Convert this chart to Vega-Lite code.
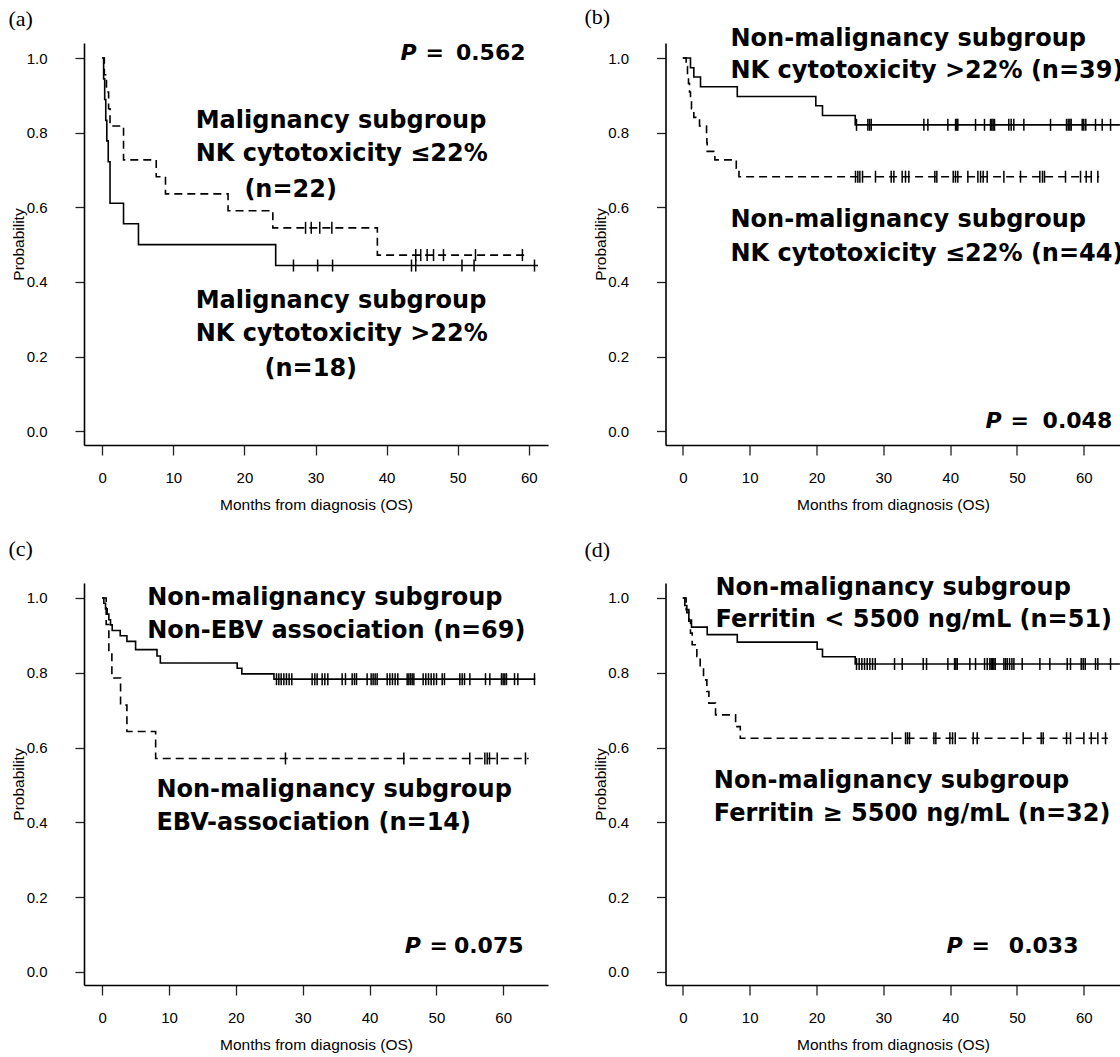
{
"$schema": "https://vega.github.io/schema/vega-lite/v6.json",
"background": "white",
"padding": {"left": 8, "top": 6, "right": 0, "bottom": 0},
"bounds": "flush",
"columns": 2,
"spacing": {"row": 138, "column": 117.5},
"datasets": {
"a": [
{"g":"A","t":0,"p":1,"c":0},{"g":"A","t":0.2,"p":0.944,"c":0},{"g":"A","t":0.35,"p":0.889,"c":0},{"g":"A","t":0.5,"p":0.833,"c":0},{"g":"A","t":0.65,"p":0.778,"c":0},{"g":"A","t":0.85,"p":0.722,"c":0},{"g":"A","t":1.1,"p":0.611,"c":0},{"g":"A","t":3.0,"p":0.556,"c":0},{"g":"A","t":5.1,"p":0.5,"c":0},{"g":"A","t":24.4,"p":0.444,"c":0},{"g":"A","t":61.3,"p":0.444,"c":0},
{"g":"A","t":26.9,"p":0.444,"c":1},{"g":"A","t":30.3,"p":0.444,"c":1},{"g":"A","t":32.4,"p":0.444,"c":1},{"g":"A","t":43.5,"p":0.444,"c":1},{"g":"A","t":44.1,"p":0.444,"c":1},{"g":"A","t":50.6,"p":0.444,"c":1},{"g":"A","t":52.3,"p":0.444,"c":1},{"g":"A","t":60.8,"p":0.444,"c":1},
{"g":"B","t":0,"p":1,"c":0},{"g":"B","t":0.3,"p":0.955,"c":0},{"g":"B","t":0.6,"p":0.909,"c":0},{"g":"B","t":0.9,"p":0.864,"c":0},{"g":"B","t":1.1,"p":0.818,"c":0},{"g":"B","t":3.0,"p":0.727,"c":0},{"g":"B","t":7.6,"p":0.682,"c":0},{"g":"B","t":8.9,"p":0.636,"c":0},{"g":"B","t":17.7,"p":0.591,"c":0},{"g":"B","t":24.0,"p":0.545,"c":0},{"g":"B","t":38.7,"p":0.472,"c":0},{"g":"B","t":59.8,"p":0.472,"c":0},
{"g":"B","t":28.6,"p":0.545,"c":1},{"g":"B","t":29.4,"p":0.545,"c":1},{"g":"B","t":30.6,"p":0.545,"c":1},{"g":"B","t":32.3,"p":0.545,"c":1},
{"g":"B","t":44.1,"p":0.472,"c":1},{"g":"B","t":44.8,"p":0.472,"c":1},{"g":"B","t":45.7,"p":0.472,"c":1},{"g":"B","t":46.6,"p":0.472,"c":1},{"g":"B","t":48.0,"p":0.472,"c":1},{"g":"B","t":52.5,"p":0.472,"c":1},{"g":"B","t":59.1,"p":0.472,"c":1}
],
"b": [
{"g":"A","t":0,"p":1,"c":0},{"g":"A","t":1.15,"p":0.974,"c":0},{"g":"A","t":1.65,"p":0.949,"c":0},{"g":"A","t":2.65,"p":0.923,"c":0},{"g":"A","t":8.15,"p":0.897,"c":0},{"g":"A","t":19.9,"p":0.872,"c":0},{"g":"A","t":20.9,"p":0.846,"c":0},{"g":"A","t":25.8,"p":0.821,"c":0},{"g":"A","t":65.4,"p":0.821,"c":0},
{"g":"A","t":25.99,"p":0.821,"c":1},{"g":"A","t":27.69,"p":0.821,"c":1},{"g":"A","t":27.94,"p":0.821,"c":1},{"g":"A","t":28.19,"p":0.821,"c":1},{"g":"A","t":36.07,"p":0.821,"c":1},{"g":"A","t":36.67,"p":0.821,"c":1},{"g":"A","t":39.66,"p":0.821,"c":1},{"g":"A","t":40.81,"p":0.821,"c":1},{"g":"A","t":41.0,"p":0.821,"c":1},{"g":"A","t":41.15,"p":0.821,"c":1},{"g":"A","t":43.8,"p":0.821,"c":1},{"g":"A","t":45.14,"p":0.821,"c":1},{"g":"A","t":46.04,"p":0.821,"c":1},{"g":"A","t":46.24,"p":0.821,"c":1},{"g":"A","t":46.44,"p":0.821,"c":1},{"g":"A","t":46.64,"p":0.821,"c":1},{"g":"A","t":48.78,"p":0.821,"c":1},{"g":"A","t":49.13,"p":0.821,"c":1},{"g":"A","t":49.53,"p":0.821,"c":1},{"g":"A","t":51.03,"p":0.821,"c":1},{"g":"A","t":55.02,"p":0.821,"c":1},{"g":"A","t":57.41,"p":0.821,"c":1},{"g":"A","t":57.66,"p":0.821,"c":1},{"g":"A","t":57.91,"p":0.821,"c":1},{"g":"A","t":58.11,"p":0.821,"c":1},{"g":"A","t":59.76,"p":0.821,"c":1},{"g":"A","t":60.0,"p":0.821,"c":1},{"g":"A","t":60.3,"p":0.821,"c":1},{"g":"A","t":61.75,"p":0.821,"c":1},{"g":"A","t":62.75,"p":0.821,"c":1},{"g":"A","t":64.0,"p":0.821,"c":1},
{"g":"B","t":0,"p":1,"c":0},{"g":"B","t":0.5,"p":0.977,"c":0},{"g":"B","t":0.7,"p":0.955,"c":0},{"g":"B","t":0.85,"p":0.932,"c":0},{"g":"B","t":1.0,"p":0.909,"c":0},{"g":"B","t":1.15,"p":0.886,"c":0},{"g":"B","t":1.3,"p":0.864,"c":0},{"g":"B","t":1.65,"p":0.841,"c":0},{"g":"B","t":2.5,"p":0.818,"c":0},{"g":"B","t":3.55,"p":0.795,"c":0},{"g":"B","t":3.6,"p":0.773,"c":0},{"g":"B","t":3.65,"p":0.75,"c":0},{"g":"B","t":4.8,"p":0.727,"c":0},{"g":"B","t":8.0,"p":0.705,"c":0},{"g":"B","t":8.4,"p":0.682,"c":0},{"g":"B","t":62.3,"p":0.682,"c":0},
{"g":"B","t":25.84,"p":0.682,"c":1},{"g":"B","t":26.19,"p":0.682,"c":1},{"g":"B","t":26.49,"p":0.682,"c":1},{"g":"B","t":26.89,"p":0.682,"c":1},{"g":"B","t":28.83,"p":0.682,"c":1},{"g":"B","t":31.18,"p":0.682,"c":1},{"g":"B","t":31.58,"p":0.682,"c":1},{"g":"B","t":32.82,"p":0.682,"c":1},{"g":"B","t":33.32,"p":0.682,"c":1},{"g":"B","t":33.82,"p":0.682,"c":1},{"g":"B","t":37.71,"p":0.682,"c":1},{"g":"B","t":38.01,"p":0.682,"c":1},{"g":"B","t":40.46,"p":0.682,"c":1},{"g":"B","t":40.8,"p":0.682,"c":1},{"g":"B","t":41.15,"p":0.682,"c":1},{"g":"B","t":42.65,"p":0.682,"c":1},{"g":"B","t":44.15,"p":0.682,"c":1},{"g":"B","t":44.55,"p":0.682,"c":1},{"g":"B","t":44.94,"p":0.682,"c":1},{"g":"B","t":45.54,"p":0.682,"c":1},{"g":"B","t":48.04,"p":0.682,"c":1},{"g":"B","t":50.53,"p":0.682,"c":1},{"g":"B","t":53.42,"p":0.682,"c":1},{"g":"B","t":53.82,"p":0.682,"c":1},{"g":"B","t":54.12,"p":0.682,"c":1},{"g":"B","t":57.26,"p":0.682,"c":1},{"g":"B","t":59.51,"p":0.682,"c":1},{"g":"B","t":60.36,"p":0.682,"c":1},{"g":"B","t":61.11,"p":0.682,"c":1},{"g":"B","t":62.1,"p":0.682,"c":1}
],
"c": [
{"g":"A","t":0,"p":1,"c":0},{"g":"A","t":0.25,"p":0.986,"c":0},{"g":"A","t":0.5,"p":0.971,"c":0},{"g":"A","t":0.75,"p":0.957,"c":0},{"g":"A","t":1.0,"p":0.942,"c":0},{"g":"A","t":1.25,"p":0.928,"c":0},{"g":"A","t":1.5,"p":0.913,"c":0},{"g":"A","t":2.7,"p":0.899,"c":0},{"g":"A","t":3.7,"p":0.884,"c":0},{"g":"A","t":5.0,"p":0.862,"c":0},{"g":"A","t":8.2,"p":0.845,"c":0},{"g":"A","t":8.7,"p":0.826,"c":0},{"g":"A","t":20.2,"p":0.812,"c":0},{"g":"A","t":20.9,"p":0.797,"c":0},{"g":"A","t":25.7,"p":0.783,"c":0},{"g":"A","t":64.8,"p":0.783,"c":0},
{"g":"A","t":26.08,"p":0.783,"c":1},{"g":"A","t":26.43,"p":0.783,"c":1},{"g":"A","t":26.78,"p":0.783,"c":1},{"g":"A","t":27.18,"p":0.783,"c":1},{"g":"A","t":27.57,"p":0.783,"c":1},{"g":"A","t":27.97,"p":0.783,"c":1},{"g":"A","t":28.37,"p":0.783,"c":1},{"g":"A","t":31.41,"p":0.783,"c":1},{"g":"A","t":31.81,"p":0.783,"c":1},{"g":"A","t":32.16,"p":0.783,"c":1},{"g":"A","t":32.91,"p":0.783,"c":1},{"g":"A","t":33.31,"p":0.783,"c":1},{"g":"A","t":33.76,"p":0.783,"c":1},{"g":"A","t":35.9,"p":0.783,"c":1},{"g":"A","t":36.4,"p":0.783,"c":1},{"g":"A","t":37.4,"p":0.783,"c":1},{"g":"A","t":37.75,"p":0.783,"c":1},{"g":"A","t":38.05,"p":0.783,"c":1},{"g":"A","t":39.64,"p":0.783,"c":1},{"g":"A","t":40.24,"p":0.783,"c":1},{"g":"A","t":40.54,"p":0.783,"c":1},{"g":"A","t":40.84,"p":0.783,"c":1},{"g":"A","t":41.14,"p":0.783,"c":1},{"g":"A","t":42.64,"p":0.783,"c":1},{"g":"A","t":43.04,"p":0.783,"c":1},{"g":"A","t":43.43,"p":0.783,"c":1},{"g":"A","t":43.83,"p":0.783,"c":1},{"g":"A","t":44.23,"p":0.783,"c":1},{"g":"A","t":45.63,"p":0.783,"c":1},{"g":"A","t":45.88,"p":0.783,"c":1},{"g":"A","t":46.13,"p":0.783,"c":1},{"g":"A","t":46.38,"p":0.783,"c":1},{"g":"A","t":46.63,"p":0.783,"c":1},{"g":"A","t":48.02,"p":0.783,"c":1},{"g":"A","t":48.42,"p":0.783,"c":1},{"g":"A","t":48.82,"p":0.783,"c":1},{"g":"A","t":49.22,"p":0.783,"c":1},{"g":"A","t":49.62,"p":0.783,"c":1},{"g":"A","t":50.02,"p":0.783,"c":1},{"g":"A","t":50.87,"p":0.783,"c":1},{"g":"A","t":51.21,"p":0.783,"c":1},{"g":"A","t":53.51,"p":0.783,"c":1},{"g":"A","t":53.86,"p":0.783,"c":1},{"g":"A","t":54.21,"p":0.783,"c":1},{"g":"A","t":55.01,"p":0.783,"c":1},{"g":"A","t":57.35,"p":0.783,"c":1},{"g":"A","t":58.0,"p":0.783,"c":1},{"g":"A","t":59.74,"p":0.783,"c":1},{"g":"A","t":59.99,"p":0.783,"c":1},{"g":"A","t":60.24,"p":0.783,"c":1},{"g":"A","t":60.49,"p":0.783,"c":1},{"g":"A","t":61.69,"p":0.783,"c":1},{"g":"A","t":62.19,"p":0.783,"c":1},{"g":"A","t":64.68,"p":0.783,"c":1},
{"g":"B","t":0,"p":1,"c":0},{"g":"B","t":0.6,"p":0.929,"c":0},{"g":"B","t":1.0,"p":0.857,"c":0},{"g":"B","t":1.45,"p":0.786,"c":0},{"g":"B","t":2.75,"p":0.714,"c":0},{"g":"B","t":3.7,"p":0.643,"c":0},{"g":"B","t":8.0,"p":0.571,"c":0},{"g":"B","t":63.8,"p":0.571,"c":0},
{"g":"B","t":27.42,"p":0.571,"c":1},{"g":"B","t":45.13,"p":0.571,"c":1},{"g":"B","t":55.0,"p":0.571,"c":1},{"g":"B","t":57.25,"p":0.571,"c":1},{"g":"B","t":57.6,"p":0.571,"c":1},{"g":"B","t":57.95,"p":0.571,"c":1},{"g":"B","t":59.1,"p":0.571,"c":1},{"g":"B","t":63.33,"p":0.571,"c":1}
],
"d": [
{"g":"A","t":0,"p":1,"c":0},{"g":"A","t":0.3,"p":0.980,"c":0},{"g":"A","t":0.6,"p":0.961,"c":0},{"g":"A","t":0.9,"p":0.941,"c":0},{"g":"A","t":1.3,"p":0.922,"c":0},{"g":"A","t":3.65,"p":0.902,"c":0},{"g":"A","t":8.15,"p":0.882,"c":0},{"g":"A","t":20.1,"p":0.863,"c":0},{"g":"A","t":20.9,"p":0.843,"c":0},{"g":"A","t":25.8,"p":0.8235,"c":0},{"g":"A","t":65.4,"p":0.8235,"c":0},
{"g":"A","t":25.99,"p":0.8235,"c":1},{"g":"A","t":26.39,"p":0.8235,"c":1},{"g":"A","t":26.79,"p":0.8235,"c":1},{"g":"A","t":27.19,"p":0.8235,"c":1},{"g":"A","t":27.59,"p":0.8235,"c":1},{"g":"A","t":27.99,"p":0.8235,"c":1},{"g":"A","t":28.39,"p":0.8235,"c":1},{"g":"A","t":28.79,"p":0.8235,"c":1},{"g":"A","t":31.68,"p":0.8235,"c":1},{"g":"A","t":32.83,"p":0.8235,"c":1},{"g":"A","t":35.97,"p":0.8235,"c":1},{"g":"A","t":36.47,"p":0.8235,"c":1},{"g":"A","t":39.66,"p":0.8235,"c":1},{"g":"A","t":40.66,"p":0.8235,"c":1},{"g":"A","t":40.86,"p":0.8235,"c":1},{"g":"A","t":41.06,"p":0.8235,"c":1},{"g":"A","t":42.95,"p":0.8235,"c":1},{"g":"A","t":43.8,"p":0.8235,"c":1},{"g":"A","t":45.15,"p":0.8235,"c":1},{"g":"A","t":45.55,"p":0.8235,"c":1},{"g":"A","t":45.94,"p":0.8235,"c":1},{"g":"A","t":46.14,"p":0.8235,"c":1},{"g":"A","t":46.34,"p":0.8235,"c":1},{"g":"A","t":46.54,"p":0.8235,"c":1},{"g":"A","t":46.74,"p":0.8235,"c":1},{"g":"A","t":48.04,"p":0.8235,"c":1},{"g":"A","t":48.29,"p":0.8235,"c":1},{"g":"A","t":48.54,"p":0.8235,"c":1},{"g":"A","t":48.89,"p":0.8235,"c":1},{"g":"A","t":49.24,"p":0.8235,"c":1},{"g":"A","t":49.54,"p":0.8235,"c":1},{"g":"A","t":50.78,"p":0.8235,"c":1},{"g":"A","t":53.43,"p":0.8235,"c":1},{"g":"A","t":54.92,"p":0.8235,"c":1},{"g":"A","t":57.52,"p":0.8235,"c":1},{"g":"A","t":58.01,"p":0.8235,"c":1},{"g":"A","t":59.61,"p":0.8235,"c":1},{"g":"A","t":59.91,"p":0.8235,"c":1},{"g":"A","t":60.21,"p":0.8235,"c":1},{"g":"A","t":61.75,"p":0.8235,"c":1},{"g":"A","t":62.1,"p":0.8235,"c":1},{"g":"A","t":64.0,"p":0.8235,"c":1},
{"g":"B","t":0,"p":1,"c":0},{"g":"B","t":0.5,"p":0.969,"c":0},{"g":"B","t":0.9,"p":0.938,"c":0},{"g":"B","t":1.15,"p":0.906,"c":0},{"g":"B","t":1.4,"p":0.875,"c":0},{"g":"B","t":2.1,"p":0.844,"c":0},{"g":"B","t":2.6,"p":0.8125,"c":0},{"g":"B","t":3.1,"p":0.781,"c":0},{"g":"B","t":3.6,"p":0.75,"c":0},{"g":"B","t":3.9,"p":0.719,"c":0},{"g":"B","t":4.9,"p":0.6875,"c":0},{"g":"B","t":7.9,"p":0.656,"c":0},{"g":"B","t":8.6,"p":0.625,"c":0},{"g":"B","t":63.6,"p":0.625,"c":0},
{"g":"B","t":31.33,"p":0.625,"c":1},{"g":"B","t":33.33,"p":0.625,"c":1},{"g":"B","t":33.62,"p":0.625,"c":1},{"g":"B","t":33.92,"p":0.625,"c":1},{"g":"B","t":37.57,"p":0.625,"c":1},{"g":"B","t":37.86,"p":0.625,"c":1},{"g":"B","t":39.96,"p":0.625,"c":1},{"g":"B","t":40.36,"p":0.625,"c":1},{"g":"B","t":40.76,"p":0.625,"c":1},{"g":"B","t":43.45,"p":0.625,"c":1},{"g":"B","t":44.05,"p":0.625,"c":1},{"g":"B","t":50.93,"p":0.625,"c":1},{"g":"B","t":53.62,"p":0.625,"c":1},{"g":"B","t":53.92,"p":0.625,"c":1},{"g":"B","t":57.42,"p":0.625,"c":1},{"g":"B","t":58.01,"p":0.625,"c":1},{"g":"B","t":60.01,"p":0.625,"c":1},{"g":"B","t":61.11,"p":0.625,"c":1},{"g":"B","t":62.1,"p":0.625,"c":1},{"g":"B","t":63.25,"p":0.625,"c":1}
]
},
"config": {
"view": {"stroke": null},
"axis": {"grid": false, "domainColor": "#000", "domainWidth": 1.6, "tickColor": "#222", "tickWidth": 1.3, "labelFont": "Liberation Sans", "labelFontSize": 15, "labelColor": "#000", "titleFont": "Liberation Sans", "titleFontSize": 15.5, "titleFontWeight": "normal", "titleColor": "#000", "labelOverlap": false},
"axisX": {"tickSize": 10, "labelPadding": 22, "labelBaseline": "middle", "titleBaseline": "middle", "titleY": 59},
"axisY": {"tickSize": 9, "labelPadding": 28, "labelBaseline": "middle", "titleBaseline": "middle", "titleX": -65.5},
"text": {"font": "DejaVu Sans", "fontSize": 24, "fontWeight": "bold", "align": "left", "baseline": "alphabetic", "color": "#000"},
"title": {"anchor": "start", "frame": "group", "baseline": "alphabetic", "font": "Liberation Serif", "fontSize": 22, "fontWeight": "normal", "color": "#000"}
},
"concat": [
{
"width": 464, "height": 402,
"title": {"text": "(a)", "dx": -75.5, "offset": 11},
"layer": [
{"data": {"name": "a"}, "transform": [{"filter": "datum.c == 0"}],
 "mark": {"type": "line", "interpolate": "step-after", "strokeWidth": 1.6, "color": "#000"},
 "encoding": {
  "x": {"field": "t", "type": "quantitative", "scale": {"domain": [-2.56, 62.7], "nice": false, "zero": false}, "axis": {"values": [0,10,20,30,40,50,60], "title": "Months from diagnosis (OS)"}},
  "y": {"field": "p", "type": "quantitative", "scale": {"domain": [-0.0367, 1.0402], "nice": false, "zero": false}, "axis": {"values": [0,0.2,0.4,0.6,0.8,1], "format": ".1f", "title": "Probability"}},
  "detail": {"field": "g"},
  "strokeDash": {"field": "g", "type": "nominal", "scale": {"domain": ["A","B"], "range": [[1,0],[8,5]]}, "legend": null}}},
{"data": {"name": "a"}, "transform": [{"filter": "datum.c == 1"}],
 "mark": {"type": "point", "shape": "M0,-1L0,1", "size": 144, "strokeWidth": 1.5, "color": "#000", "opacity": 1},
 "encoding": {"x": {"field": "t", "type": "quantitative"}, "y": {"field": "p", "type": "quantitative"}}},
{"data": {"values": [{}]}, "mark": {"type": "text", "fontStyle": "italic", "fontSize": 22}, "encoding": {"x": {"datum": 41.95}, "y": {"datum": 0.994}, "text": {"value": "P"}}},
{"data": {"values": [{}]}, "mark": {"type": "text", "fontSize": 22}, "encoding": {"x": {"datum": 45.47}, "y": {"datum": 0.994}, "text": {"value": "="}}},
{"data": {"values": [{}]}, "mark": {"type": "text", "align": "right", "fontSize": 22}, "encoding": {"x": {"datum": 59.54}, "y": {"datum": 0.994}, "text": {"value": "0.562"}}},
{"data": {"values": [{}]}, "mark": "text", "encoding": {"x": {"datum": 13.15}, "y": {"datum": 0.8125}, "text": {"value": "Malignancy subgroup"}}},
{"data": {"values": [{}]}, "mark": "text", "encoding": {"x": {"datum": 13.15}, "y": {"datum": 0.7233}, "text": {"value": "NK cytotoxicity ≤22%"}}},
{"data": {"values": [{}]}, "mark": "text", "encoding": {"x": {"datum": 20.0}, "y": {"datum": 0.628}, "text": {"value": "(n=22)"}}},
{"data": {"values": [{}]}, "mark": "text", "encoding": {"x": {"datum": 13.15}, "y": {"datum": 0.3303}, "text": {"value": "Malignancy subgroup"}}},
{"data": {"values": [{}]}, "mark": "text", "encoding": {"x": {"datum": 13.15}, "y": {"datum": 0.2411}, "text": {"value": "NK cytotoxicity >22%"}}},
{"data": {"values": [{}]}, "mark": "text", "encoding": {"x": {"datum": 22.83}, "y": {"datum": 0.1473}, "text": {"value": "(n=18)"}}}
]
},
{
"width": 455, "height": 402,
"title": {"text": "(b)", "dx": -81, "offset": -2},
"layer": [
{"data": {"name": "b"}, "transform": [{"filter": "datum.c == 0"}],
 "mark": {"type": "line", "interpolate": "step-after", "strokeWidth": 1.6, "color": "#000"},
 "encoding": {
  "x": {"field": "t", "type": "quantitative", "scale": {"domain": [-2.59, 65.49], "nice": false, "zero": false}, "axis": {"values": [0,10,20,30,40,50,60], "title": "Months from diagnosis (OS)"}},
  "y": {"field": "p", "type": "quantitative", "scale": {"domain": [-0.0367, 1.0402], "nice": false, "zero": false}, "axis": {"values": [0,0.2,0.4,0.6,0.8,1], "format": ".1f", "title": "Probability"}},
  "detail": {"field": "g"},
  "strokeDash": {"field": "g", "type": "nominal", "scale": {"domain": ["A","B"], "range": [[1,0],[8,5]]}, "legend": null}}},
{"data": {"name": "b"}, "transform": [{"filter": "datum.c == 1"}],
 "mark": {"type": "point", "shape": "M0,-1L0,1", "size": 144, "strokeWidth": 1.5, "color": "#000", "opacity": 1},
 "encoding": {"x": {"field": "t", "type": "quantitative"}, "y": {"field": "p", "type": "quantitative"}}},
{"data": {"values": [{}]}, "mark": {"type": "text", "fontStyle": "italic", "fontSize": 22}, "encoding": {"x": {"datum": 45.29}, "y": {"datum": 0.0091}, "text": {"value": "P"}}},
{"data": {"values": [{}]}, "mark": {"type": "text", "fontSize": 22}, "encoding": {"x": {"datum": 49.03}, "y": {"datum": 0.0091}, "text": {"value": "="}}},
{"data": {"values": [{}]}, "mark": {"type": "text", "align": "right", "fontSize": 22}, "encoding": {"x": {"datum": 64.25}, "y": {"datum": 0.0091}, "text": {"value": "0.048"}}},
{"data": {"values": [{}]}, "mark": "text", "encoding": {"x": {"datum": 7.14}, "y": {"datum": 1.0314}, "text": {"value": "Non-malignancy subgroup"}}},
{"data": {"values": [{}]}, "mark": {"type": "text", "clip": true}, "encoding": {"x": {"datum": 7.14}, "y": {"datum": 0.9463}, "text": {"value": "NK cytotoxicity >22% (n=39)"}}},
{"data": {"values": [{}]}, "mark": "text", "encoding": {"x": {"datum": 7.14}, "y": {"datum": 0.5466}, "text": {"value": "Non-malignancy subgroup"}}},
{"data": {"values": [{}]}, "mark": {"type": "text", "clip": true}, "encoding": {"x": {"datum": 7.14}, "y": {"datum": 0.4572}, "text": {"value": "NK cytotoxicity ≤22% (n=44)"}}}
]
},
{
"width": 464, "height": 402,
"title": {"text": "(c)", "dx": -75.5, "offset": 22},
"layer": [
{"data": {"name": "c"}, "transform": [{"filter": "datum.c == 0"}],
 "mark": {"type": "line", "interpolate": "step-after", "strokeWidth": 1.6, "color": "#000"},
 "encoding": {
  "x": {"field": "t", "type": "quantitative", "scale": {"domain": [-2.72, 66.7], "nice": false, "zero": false}, "axis": {"values": [0,10,20,30,40,50,60], "title": "Months from diagnosis (OS)"}},
  "y": {"field": "p", "type": "quantitative", "scale": {"domain": [-0.0348, 1.0401], "nice": false, "zero": false}, "axis": {"values": [0,0.2,0.4,0.6,0.8,1], "format": ".1f", "title": "Probability"}},
  "detail": {"field": "g"},
  "strokeDash": {"field": "g", "type": "nominal", "scale": {"domain": ["A","B"], "range": [[1,0],[8,5]]}, "legend": null}}},
{"data": {"name": "c"}, "transform": [{"filter": "datum.c == 1"}],
 "mark": {"type": "point", "shape": "M0,-1L0,1", "size": 144, "strokeWidth": 1.5, "color": "#000", "opacity": 1},
 "encoding": {"x": {"field": "t", "type": "quantitative"}, "y": {"field": "p", "type": "quantitative"}}},
{"data": {"values": [{}]}, "mark": {"type": "text", "fontStyle": "italic", "fontSize": 22}, "encoding": {"x": {"datum": 45.26}, "y": {"datum": 0.0508}, "text": {"value": "P"}}},
{"data": {"values": [{}]}, "mark": {"type": "text", "fontSize": 22}, "encoding": {"x": {"datum": 48.98}, "y": {"datum": 0.0508}, "text": {"value": "="}}},
{"data": {"values": [{}]}, "mark": {"type": "text", "align": "right", "fontSize": 22}, "encoding": {"x": {"datum": 63.04}, "y": {"datum": 0.0508}, "text": {"value": "0.075"}}},
{"data": {"values": [{}]}, "mark": "text", "encoding": {"x": {"datum": 6.73}, "y": {"datum": 0.982}, "text": {"value": "Non-malignancy subgroup"}}},
{"data": {"values": [{}]}, "mark": "text", "encoding": {"x": {"datum": 6.73}, "y": {"datum": 0.893}, "text": {"value": "Non-EBV association (n=69)"}}},
{"data": {"values": [{}]}, "mark": "text", "encoding": {"x": {"datum": 8.12}, "y": {"datum": 0.468}, "text": {"value": "Non-malignancy subgroup"}}},
{"data": {"values": [{}]}, "mark": "text", "encoding": {"x": {"datum": 8.12}, "y": {"datum": 0.3805}, "text": {"value": "EBV-association (n=14)"}}}
]
},
{
"width": 455, "height": 402,
"title": {"text": "(d)", "dx": -81, "offset": 14},
"layer": [
{"data": {"name": "d"}, "transform": [{"filter": "datum.c == 0"}],
 "mark": {"type": "line", "interpolate": "step-after", "strokeWidth": 1.6, "color": "#000"},
 "encoding": {
  "x": {"field": "t", "type": "quantitative", "scale": {"domain": [-2.59, 65.49], "nice": false, "zero": false}, "axis": {"values": [0,10,20,30,40,50,60], "title": "Months from diagnosis (OS)"}},
  "y": {"field": "p", "type": "quantitative", "scale": {"domain": [-0.0348, 1.0401], "nice": false, "zero": false}, "axis": {"values": [0,0.2,0.4,0.6,0.8,1], "format": ".1f", "title": "Probability"}},
  "detail": {"field": "g"},
  "strokeDash": {"field": "g", "type": "nominal", "scale": {"domain": ["A","B"], "range": [[1,0],[8,5]]}, "legend": null}}},
{"data": {"name": "d"}, "transform": [{"filter": "datum.c == 1"}],
 "mark": {"type": "point", "shape": "M0,-1L0,1", "size": 144, "strokeWidth": 1.5, "color": "#000", "opacity": 1},
 "encoding": {"x": {"field": "t", "type": "quantitative"}, "y": {"field": "p", "type": "quantitative"}}},
{"data": {"values": [{}]}, "mark": {"type": "text", "fontStyle": "italic", "fontSize": 22}, "encoding": {"x": {"datum": 39.45}, "y": {"datum": 0.0495}, "text": {"value": "P"}}},
{"data": {"values": [{}]}, "mark": {"type": "text", "fontSize": 22}, "encoding": {"x": {"datum": 43.2}, "y": {"datum": 0.0495}, "text": {"value": "="}}},
{"data": {"values": [{}]}, "mark": {"type": "text", "align": "right", "fontSize": 22}, "encoding": {"x": {"datum": 59.2}, "y": {"datum": 0.0495}, "text": {"value": "0.033"}}},
{"data": {"values": [{}]}, "mark": "text", "encoding": {"x": {"datum": 4.89}, "y": {"datum": 1.0088}, "text": {"value": "Non-malignancy subgroup"}}},
{"data": {"values": [{}]}, "mark": "text", "encoding": {"x": {"datum": 4.89}, "y": {"datum": 0.9224}, "text": {"value": "Ferritin < 5500 ng/mL (n=51)"}}},
{"data": {"values": [{}]}, "mark": "text", "encoding": {"x": {"datum": 4.64}, "y": {"datum": 0.4913}, "text": {"value": "Non-malignancy subgroup"}}},
{"data": {"values": [{}]}, "mark": "text", "encoding": {"x": {"datum": 4.64}, "y": {"datum": 0.4048}, "text": {"value": "Ferritin ≥ 5500 ng/mL (n=32)"}}}
]
}
]
}
